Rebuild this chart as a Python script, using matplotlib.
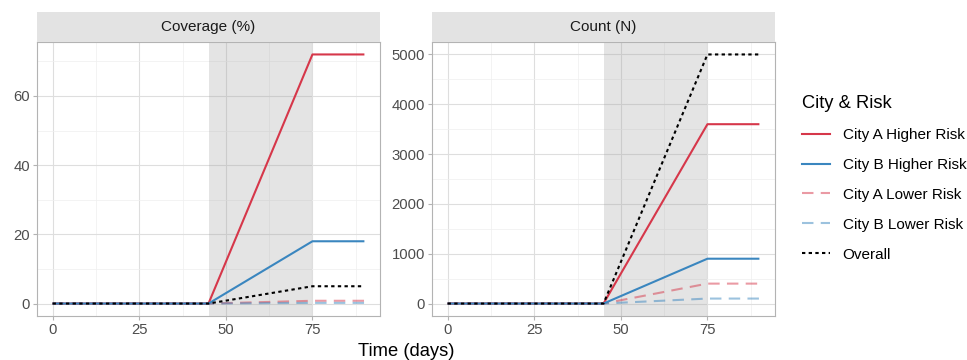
import matplotlib
matplotlib.use("Agg")
import matplotlib.pyplot as plt
from matplotlib.lines import Line2D
from matplotlib.ticker import MultipleLocator

plt.rcParams['font.family'] = ['Liberation Sans', 'DejaVu Sans']

days = [0, 45, 75, 90]
series_names = ["City A Higher Risk", "City B Higher Risk", "City A Lower Risk",
                "City B Lower Risk", "Overall"]
coverage = {
    "City A Higher Risk": [0, 0, 72, 72],
    "City B Higher Risk": [0, 0, 18, 18],
    "City A Lower Risk": [0, 0, 0.8, 0.8],
    "City B Lower Risk": [0, 0, 0.2, 0.2],
    "Overall": [0, 0, 5, 5],
}
count = {
    "City A Higher Risk": [0, 0, 3600, 3600],
    "City B Higher Risk": [0, 0, 900, 900],
    "City A Lower Risk": [0, 0, 400, 400],
    "City B Lower Risk": [0, 0, 100, 100],
    "Overall": [0, 0, 5000, 5000],
}
panel_titles = ["Coverage (%)", "Count (N)"]
shade_start, shade_end = 45, 75

RED = "#D6374A"
BLUE = "#3A86BF"
styles = {
    "City A Higher Risk": dict(color=RED, ls="-", alpha=1.0),
    "City B Higher Risk": dict(color=BLUE, ls="-", alpha=1.0),
    "City A Lower Risk": dict(color=RED, ls=(0, (5.5, 3.5)), alpha=0.5),
    "City B Lower Risk": dict(color=BLUE, ls=(0, (5.5, 3.5)), alpha=0.5),
    "Overall": dict(color="black", ls=(0, (1.6, 1.6)), alpha=1.0),
}
draw_order = ["City A Lower Risk", "City B Lower Risk", "City A Higher Risk",
              "City B Higher Risk", "Overall"]

W, H = 967, 360
fig = plt.figure(figsize=(W / 100, H / 100), dpi=100)

def fx(px):
    return px / W

def fy(py):
    return 1 - py / H

panels = [(37, 380), (432, 775)]
top, bot, strip_top = 42, 316, 12
datasets = [coverage, count]
ylims = [(-3.6, 75.6), (-250, 5250)]
ymaj = [20, 1000]
ymin = [10, 500]

for (x0, x1), data, yl, ym, ymi, title in zip(panels, datasets, ylims, ymaj, ymin, panel_titles):
    ax = fig.add_axes([fx(x0), fy(bot), fx(x1 - x0), (bot - top) / H])
    ax.set_xlim(-4.5, 94.5)
    ax.set_ylim(*yl)
    ax.xaxis.set_major_locator(MultipleLocator(25))
    ax.xaxis.set_minor_locator(MultipleLocator(12.5))
    ax.yaxis.set_major_locator(MultipleLocator(ym))
    ax.yaxis.set_minor_locator(MultipleLocator(ymi))
    ax.grid(which="major", color="#DEDEDE", lw=0.8)
    ax.grid(which="minor", color="#EFEFEF", lw=0.5)
    ax.set_axisbelow(True)
    ax.axvspan(shade_start, shade_end, color="#9E9E9E", alpha=0.28, lw=0, zorder=1.5)
    for name in draw_order:
        st = styles[name]
        ax.plot(days, data[name], color=st["color"], ls=st["ls"], alpha=st["alpha"],
                lw=1.5, zorder=3, solid_capstyle="butt", dash_capstyle="butt")
    for sp in ax.spines.values():
        sp.set_color("#B3B3B3")
        sp.set_linewidth(0.8)
    ax.tick_params(which="major", length=3, color="#B3B3B3", labelcolor="#4D4D4D",
                   labelsize=10.7, pad=2)
    ax.tick_params(which="minor", length=0)
    # strip
    sax = fig.add_axes([fx(x0), fy(top), fx(x1 - x0), (top - strip_top) / H])
    sax.set_facecolor("#E3E3E3")
    sax.set_xticks([])
    sax.set_yticks([])
    for sp in sax.spines.values():
        sp.set_visible(False)
    sax.text(0.5, 0.5, title, ha="center", va="center", fontsize=11, color="#1A1A1A",
             transform=sax.transAxes)

fig.text(fx(406), fy(352), "Time (days)", ha="center", va="center", fontsize=13.2,
         color="black")

handles = []
for name in series_names:
    st = styles[name]
    handles.append(Line2D([], [], color=st["color"], ls=st["ls"], alpha=st["alpha"], lw=1.5))
leg = fig.legend(handles, series_names, title="City & Risk", loc="upper left",
                 bbox_to_anchor=(fx(796), fy(89)), frameon=False, fontsize=11,
                 title_fontsize=13.2, handlelength=1.8, handletextpad=0.85,
                 labelspacing=1.04, borderaxespad=0)
leg._legend_box.align = "left"

fig.savefig("out.png", dpi=100)
